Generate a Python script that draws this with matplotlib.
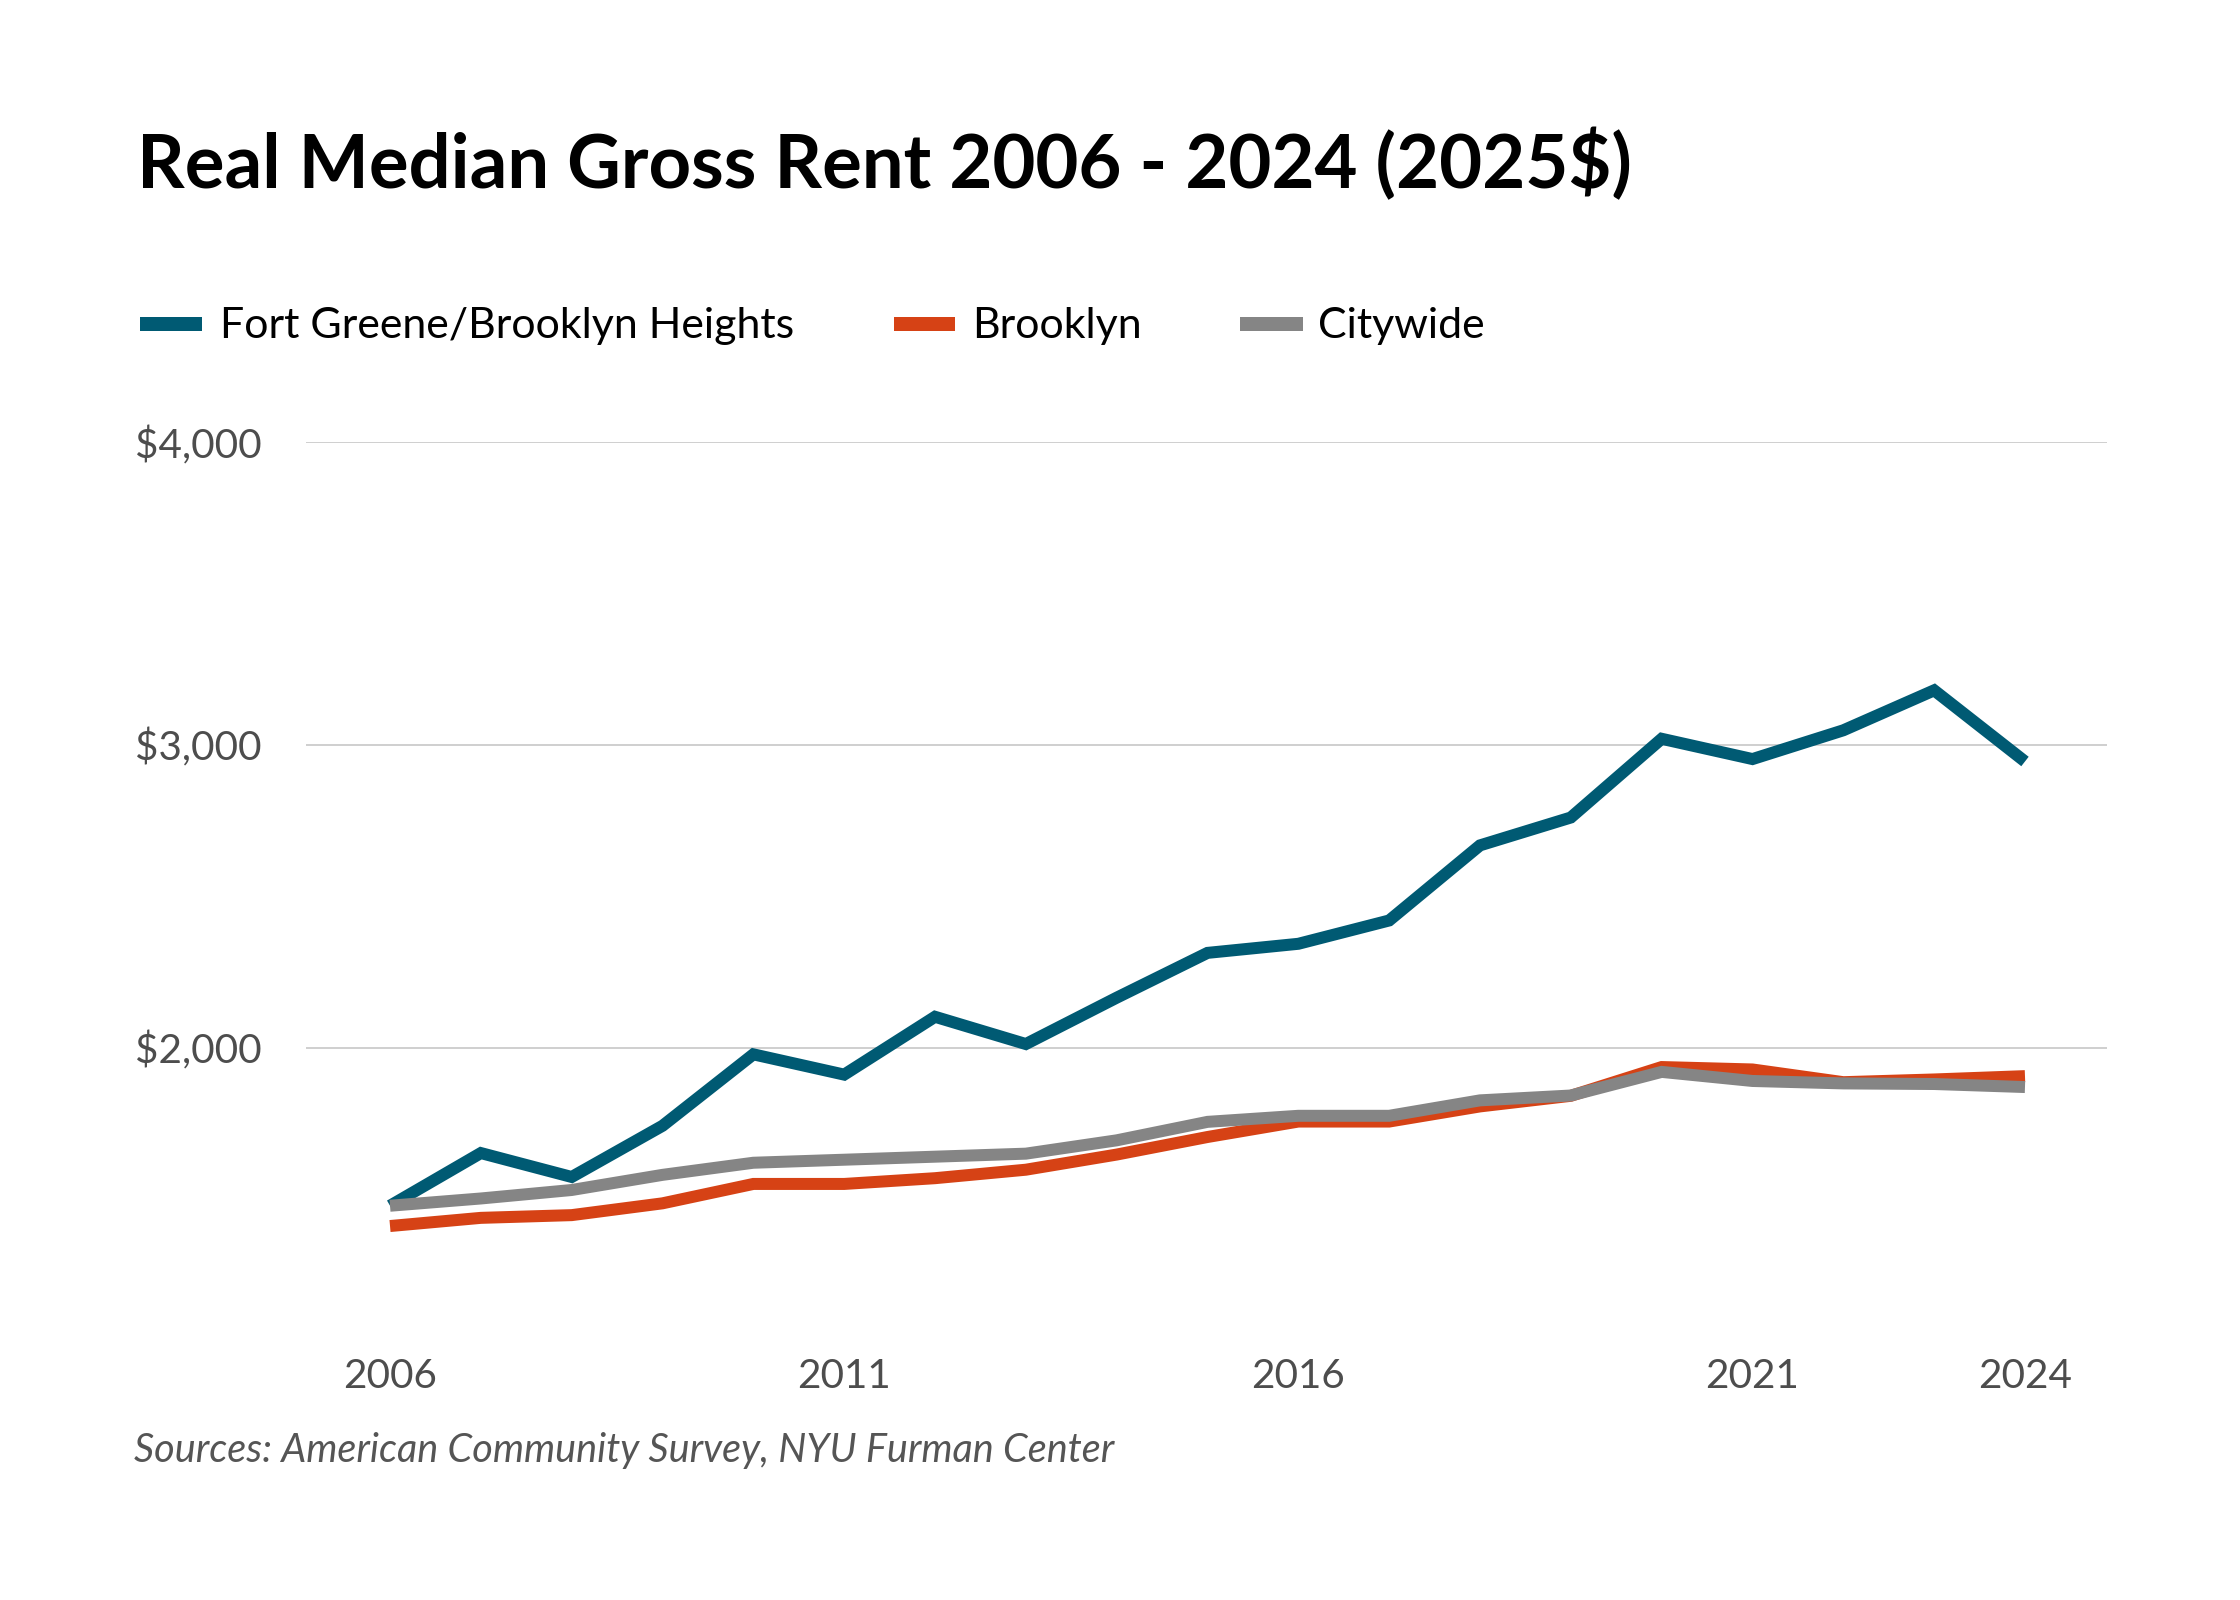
import matplotlib
matplotlib.use("Agg")
import matplotlib.pyplot as plt
from matplotlib.lines import Line2D

# ---------------- data ----------------
years = list(range(2006, 2025))
fort_greene = [1478, 1652, 1573, 1742, 1978, 1911, 2102, 2012, 2165, 2313,
               2343, 2420, 2668, 2760, 3020, 2953, 3048, 3180, 2945]
brooklyn = [1411, 1438, 1447, 1486, 1550, 1550, 1569, 1597, 1647, 1705,
            1756, 1756, 1806, 1841, 1936, 1928, 1886, 1895, 1906]
citywide = [1478, 1502, 1530, 1580, 1620, 1630, 1640, 1650, 1694, 1755,
            1775, 1775, 1826, 1842, 1920, 1890, 1882, 1880, 1870]
series_names = ["Fort Greene/Brooklyn Heights", "Brooklyn", "Citywide"]
series_colors = ["#005a73", "#d64215", "#858585"]
ytick_vals = [2000, 3000, 4000]
ytick_labels = ["$2,000", "$3,000", "$4,000"]
xtick_vals = [2006, 2011, 2016, 2021, 2024]
xtick_labels = ["2006", "2011", "2016", "2021", "2024"]
title = "Real Median Gross Rent 2006 - 2024 (2025$)"
source = "Sources: American Community Survey, NYU Furman Center"

# ---------------- layout helpers ----------------
W, H = 2240, 1600
fig = plt.figure(figsize=(W / 100, H / 100), dpi=100)
fig.patch.set_facecolor("white")
renderer = fig.canvas.get_renderer()


def fx(px):
    return px / W


def fy(py):
    return 1 - py / H


def px2pt(px):
    return px * 72 / 100


def fit(t, target_w):
    bb = t.get_window_extent(renderer=renderer)
    t.set_fontsize(t.get_fontsize() * target_w / bb.width)


FONT = ["Lato", "DejaVu Sans"]

# ---------------- axes ----------------
ax_left, ax_right, ax_top, ax_bottom = 306, 2107, 442, 1350.5
ax = fig.add_axes([fx(ax_left), fy(ax_bottom), fx(ax_right) - fx(ax_left),
                   fy(ax_top) - fy(ax_bottom)])
ax.set_xlim(2005.075, 2024.903)
ax.set_ylim(1000, 4000)
for s in ax.spines.values():
    s.set_visible(False)
ax.set_facecolor("white")

ax.set_yticks(ytick_vals)
ax.set_yticklabels(ytick_labels)
ax.set_xticks(xtick_vals)
ax.set_xticklabels(xtick_labels)
ax.yaxis.grid(True, color="#d0d0d0", linewidth=px2pt(2))
ax.xaxis.grid(False)
ax.set_axisbelow(True)

# tick label font size fitted to width of "$4,000" (~127 px)
tmp = fig.text(0, 0, "$4,000", family=FONT, fontsize=20)
fit(tmp, 127)
tick_fs = tmp.get_fontsize()
tmp.remove()

ax.tick_params(axis="y", length=0, pad=px2pt(44), labelsize=tick_fs,
               labelcolor="#4d4d4d")
ax.tick_params(axis="x", length=0, pad=px2pt(8), labelsize=tick_fs,
               labelcolor="#4d4d4d")
for lab in ax.get_xticklabels() + ax.get_yticklabels():
    lab.set_family(FONT)

lw = px2pt(12)
for vals, col in zip([fort_greene, brooklyn, citywide], series_colors):
    ax.plot(years, vals, color=col, linewidth=lw, solid_capstyle="butt",
            solid_joinstyle="miter", zorder=3)

# ---------------- title ----------------
t = fig.text(fx(137), fy(188), title, family=FONT, weight="bold",
             fontsize=48, ha="left", va="baseline", color="black")
fit(t, 1494)

# ---------------- legend (manual) ----------------
swatches = [(140, 202), (894, 955), (1240, 1303)]
text_x = [220, 972, 1318]
leg_y = 324
leg_baseline = 338
leg_texts = []
for (x0, x1), tx, name, col in zip(swatches, text_x, series_names, series_colors):
    fig.add_artist(Line2D([fx(x0), fx(x1)], [fy(leg_y), fy(leg_y)],
                          transform=fig.transFigure, color=col,
                          linewidth=px2pt(14), solid_capstyle="butt"))
    lt = fig.text(fx(tx), fy(leg_baseline), name, family=FONT, fontsize=29,
                  ha="left", va="baseline", color="black")
    leg_texts.append(lt)
fit(leg_texts[0], 576)
for lt in leg_texts[1:]:
    lt.set_fontsize(leg_texts[0].get_fontsize())

# ---------------- source ----------------
st = fig.text(fx(134), fy(1462), source, family=FONT, style="italic",
              fontsize=24, ha="left", va="baseline", color="#555555")
fit(st, 982)

fig.savefig("out.png", dpi=100, facecolor="white")
